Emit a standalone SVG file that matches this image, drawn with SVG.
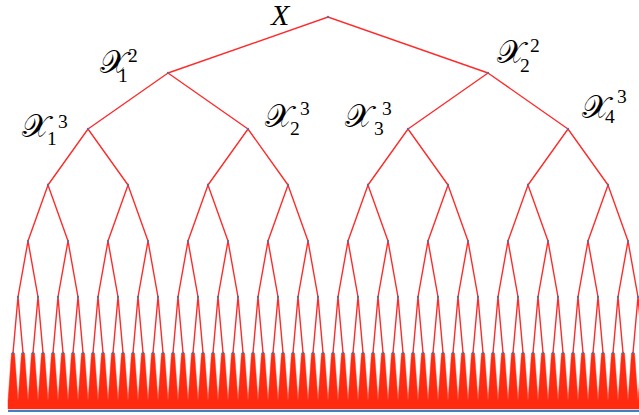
<svg xmlns="http://www.w3.org/2000/svg" xmlns:xlink="http://www.w3.org/1999/xlink" width="639" height="415" viewBox="0 0 639 415">
<style>
.e{fill:none;stroke:#ff2a2a;stroke-width:1.4}
.t{fill:#ff2a10;stroke:#ff2a10;stroke-width:0.5}
.d{fill:#5a6f9a}
.lbl{font-family:"DejaVu Serif","Noto Sans",serif;font-size:32px;fill:#000}
.s{font-family:"Liberation Serif",serif;font-size:19.5px}
.x{font-family:"Liberation Serif",serif;font-style:italic;font-size:30px;fill:#000}
</style>
<defs>
<g id="L6"><path class="t" d="M-1.5,0 L1.5,0 L5,48 L5,56 L-5,56 L-5,48 Z"/><circle class="d" r="1.2"/></g>
<g id="L5"><path class="e" d="M-5,56 L0,0 L5,56"/><use xlink:href="#L6" x="-5" y="56"/><use xlink:href="#L6" x="5" y="56"/><circle class="d" r="1.2"/></g>
<g id="L4"><path class="e" d="M-10,56 L0,0 L10,56"/><use xlink:href="#L5" x="-10" y="56"/><use xlink:href="#L5" x="10" y="56"/><circle class="d" r="1.2"/></g>
<g id="L3"><path class="e" d="M-20,56 L0,0 L20,56"/><use xlink:href="#L4" x="-20" y="56"/><use xlink:href="#L4" x="20" y="56"/><circle class="d" r="1.2"/></g>
</defs>
<rect width="639" height="415" fill="#fff"/>
<g id="connectors">
<path class="e" d="M168,73 L328,17 L488,73"/>
<path class="e" d="M88,129 L168,73 L248,129"/>
<path class="e" d="M408,129 L488,73 L568,129"/>
<path class="e" d="M48,185 L88,129 L128,185"/>
<path class="e" d="M208,185 L248,129 L288,185"/>
<path class="e" d="M368,185 L408,129 L448,185"/>
<path class="e" d="M528,185 L568,129 L608,185"/>
</g>
<g id="subtrees">
<use xlink:href="#L3" x="48" y="185"/>
<use xlink:href="#L3" x="128" y="185"/>
<use xlink:href="#L3" x="208" y="185"/>
<use xlink:href="#L3" x="288" y="185"/>
<use xlink:href="#L3" x="368" y="185"/>
<use xlink:href="#L3" x="448" y="185"/>
<use xlink:href="#L3" x="528" y="185"/>
<use xlink:href="#L3" x="608" y="185"/>
</g>
<line x1="8" y1="411" x2="639" y2="411" stroke="#3f7fc8" stroke-width="2"/>
<g id="root"><circle class="d" cx="328" cy="17" r="1.2"/><text class="x" x="271" y="25">X</text></g>
<g id="X2_1"><circle class="d" cx="168" cy="73" r="1.2"/><text class="lbl" x="100" y="73">𝒳<tspan class="s" x="118" y="82">1</tspan><tspan class="s" x="128" y="62">2</tspan></text></g>
<g id="X2_2"><circle class="d" cx="488" cy="73" r="1.2"/><text class="lbl" x="497" y="63">𝒳<tspan class="s" x="520" y="72">2</tspan><tspan class="s" x="530" y="52">2</tspan></text></g>
<g id="X3_1"><circle class="d" cx="88" cy="129" r="1.2"/><text class="lbl" x="22" y="137">𝒳<tspan class="s" x="47" y="145">1</tspan><tspan class="s" x="58" y="128">3</tspan></text></g>
<g id="X3_2"><circle class="d" cx="248" cy="129" r="1.2"/><text class="lbl" x="265" y="127">𝒳<tspan class="s" x="290" y="135">2</tspan><tspan class="s" x="300" y="115">3</tspan></text></g>
<g id="X3_3"><circle class="d" cx="408" cy="129" r="1.2"/><text class="lbl" x="345" y="127">𝒳<tspan class="s" x="374" y="135">3</tspan><tspan class="s" x="382" y="115">3</tspan></text></g>
<g id="X3_4"><circle class="d" cx="568" cy="129" r="1.2"/><text class="lbl" x="582" y="118">𝒳<tspan class="s" x="605" y="123">4</tspan><tspan class="s" x="617" y="103">3</tspan></text></g>
</svg>
